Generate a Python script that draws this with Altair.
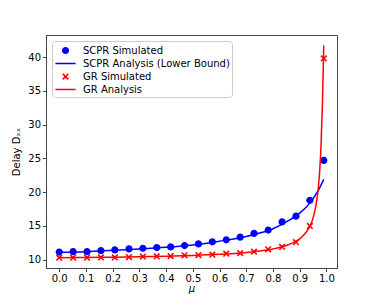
import altair as alt
import pandas as pd

mu_sim = [0.0, 0.052, 0.104, 0.156, 0.208, 0.261, 0.313, 0.365, 0.417, 0.469,
          0.521, 0.573, 0.625, 0.677, 0.729, 0.782, 0.834, 0.886, 0.938, 0.99]
scpr_sim = [11.13, 11.2, 11.2, 11.35, 11.45, 11.6, 11.7, 11.8, 11.9, 12.1,
            12.35, 12.65, 12.95, 13.35, 13.9, 14.4, 15.6, 16.45, 18.8, 24.7]
gr_sim = [10.3, 10.3, 10.3, 10.35, 10.35, 10.4, 10.45, 10.5, 10.55, 10.65,
          10.7, 10.75, 10.9, 11.0, 11.2, 11.55, 11.9, 12.6, 15.0, 39.8]

mu_scpr_an = [0.0, 0.1, 0.2, 0.3, 0.4, 0.5, 0.6, 0.7, 0.75, 0.8, 0.85, 0.9, 0.94, 0.97, 0.99]
scpr_an = [11.1, 11.2, 11.4, 11.6, 11.85, 12.2, 12.75, 13.45, 13.95, 14.6, 15.6, 16.9, 18.5, 20.3, 21.9]

mu_gr_an = [0.0, 0.1, 0.2, 0.3, 0.4, 0.5, 0.6, 0.7, 0.75, 0.8, 0.85, 0.88, 0.9, 0.92,
            0.94, 0.95, 0.96, 0.97, 0.975, 0.98, 0.985, 0.99]
gr_an = [10.3, 10.33, 10.38, 10.44, 10.52, 10.63, 10.8, 11.08, 11.3, 11.6, 12.1, 12.6,
         13.1, 13.9, 15.1, 16.2, 17.9, 20.8, 23.3, 27.2, 33.2, 41.7]

series = ["SCPR Simulated", "SCPR Analysis (Lower Bound)", "GR Simulated", "GR Analysis"]
colors = ["#0000ff", "#0000ff", "#ff0000", "#ff0000"]

CIRCLE = "M0.48,0A0.48,0.48,0,1,1,-0.48,0A0.48,0.48,0,1,1,0.48,0Z"
a, d = 0.45, 0.15
XPATH = (f"M{-a},{-a+d}L{-d},0L{-a},{a-d}L{-a+d},{a}L0,{d}L{a-d},{a}L{a},{a-d}"
         f"L{d},0L{a},{-a+d}L{a-d},{-a}L0,{-d}L{-a+d},{-a}Z")
LINE = "M-1.35,-0.1L1.35,-0.1L1.35,0.1L-1.35,0.1Z"
shapes = [CIRCLE, LINE, XPATH, LINE]

pts = pd.DataFrame({
    "mu": mu_sim + mu_sim,
    "delay": scpr_sim + gr_sim,
    "series": [series[0]] * len(mu_sim) + [series[2]] * len(mu_sim),
})
lines = pd.DataFrame({
    "mu": mu_scpr_an + mu_gr_an,
    "delay": scpr_an + gr_an,
    "series": [series[1]] * len(mu_scpr_an) + [series[3]] * len(mu_gr_an),
})

xenc = alt.X("mu:Q", scale=alt.Scale(domain=[-0.0495, 1.0395], nice=False, zero=False),
             axis=alt.Axis(values=[0, 0.1, 0.2, 0.3, 0.4, 0.5, 0.6, 0.7, 0.8, 0.9, 1.0],
                           format=".1f", title="μ", titleFontStyle="italic", titlePadding=0))
yenc = alt.Y("delay:Q", scale=alt.Scale(domain=[8.78, 43.27], nice=False, zero=False),
             axis=alt.Axis(values=[10, 15, 20, 25, 30, 35, 40], title="Delay Dₓₓ", titlePadding=6))
cscale = alt.Scale(domain=series, range=colors)

line_layer = alt.Chart(lines).mark_line(strokeWidth=1.5, interpolate="monotone").encode(
    x=xenc, y=yenc,
    color=alt.Color("series:N", scale=cscale, legend=None),
)

point_layer = alt.Chart(pts).mark_point(filled=True, size=225, opacity=1, strokeWidth=0).encode(
    x=xenc, y=yenc,
    color=alt.Color("series:N", scale=cscale,
                    legend=alt.Legend(title=None, orient="none", legendX=6, legendY=6,
                                      fillColor="white", strokeColor="#cccccc",
                                      cornerRadius=3, padding=2, symbolOffset=4,
                                      labelOffset=10, rowPadding=0,
                                      symbolSize=225, symbolStrokeWidth=0,
                                      labelFontSize=10, labelFont="DejaVu Sans",
                                      symbolOpacity=1)),
    shape=alt.Shape("series:N", scale=alt.Scale(domain=series, range=shapes)),
)

chart = alt.layer(point_layer, line_layer).properties(
    width=291, height=233,
    autosize=alt.AutoSizeParams(type="none"),
    padding={"left": 38, "top": 27, "right": 20, "bottom": 26},
).configure_view(
    stroke="#444444", strokeWidth=1
).configure_axis(
    grid=False, domainColor="#444444", tickColor="#444444", tickSize=3.5,
    labelFont="DejaVu Sans", labelFontSize=10, labelColor="black",
    titleFont="DejaVu Sans", titleFontSize=10, titleFontWeight="normal", titleColor="black",
    labelPadding=2,
)

chart.save("out.html", embed_options={"renderer": "svg", "actions": False})
